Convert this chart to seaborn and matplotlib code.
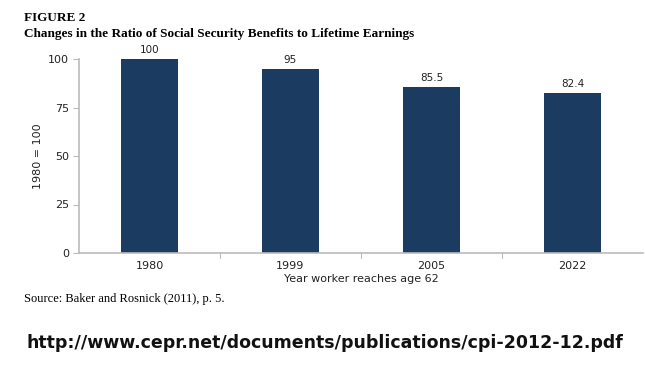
import matplotlib
matplotlib.use("Agg")
import matplotlib.pyplot as plt
import seaborn as sns
import pandas as pd

years = ["1980", "1999", "2005", "2022"]
values = [100, 95, 85.5, 82.4]
value_labels = ["100", "95", "85.5", "82.4"]
yticks = [0, 25, 50, 75, 100]

sns.set_theme(style="white")
plt.rcParams['font.family'] = ['DejaVu Sans']

df = pd.DataFrame({"year": years, "value": values})

fig = plt.figure(figsize=(6.45, 3.75), dpi=100)
ax = fig.add_axes([79/645, 1 - 253/375, (643-79)/645, (253-59)/375])

sns.barplot(data=df, x="year", y="value", color="#1b3c60", width=0.4,
            saturation=1, ax=ax, edgecolor="none")

ax.set_ylim(0, 100)
ax.set_xlim(-0.5, 3.5)
ax.set_yticks(yticks)
ax.set_yticklabels([str(t) for t in yticks], fontsize=8, color="#222222")
ax.tick_params(axis='y', length=4, width=0.8, color="#bbbbbb", direction='out', pad=3, left=True)
ax.set_xticks(range(len(years)))
ax.set_xticklabels(years, fontsize=8, color="#222222")
ax.tick_params(axis='x', length=0, pad=6)
for b in [0.5, 1.5, 2.5]:
    ax.plot([b, b], [0, -2.5], color="#bbbbbb", lw=0.8, clip_on=False)

for s in ["top", "right"]:
    ax.spines[s].set_visible(False)
for s in ["left", "bottom"]:
    ax.spines[s].set_color("#bbbbbb")
    ax.spines[s].set_linewidth(1.2)

for i, (v, lab) in enumerate(zip(values, value_labels)):
    ax.text(i, v + 2, lab, ha="center", va="bottom", fontsize=7.5, color="#222222")

ax.set_ylabel("1980 = 100", fontsize=8, color="#222222", labelpad=4)
ax.set_xlabel("Year worker reaches age 62", fontsize=8, color="#222222", labelpad=2)

fig.text(24/645, 1 - 18/375, "FIGURE 2", fontsize=9.5, fontweight="bold",
         family="Liberation Serif", va="center", ha="left", color="black")
fig.text(24/645, 1 - 34/375, "Changes in the Ratio of Social Security Benefits to Lifetime Earnings",
         fontsize=9.5, fontweight="bold", family="Liberation Serif", va="center", ha="left",
         color="black")
fig.text(24/645, 1 - 299/375, "Source: Baker and Rosnick (2011), p. 5.", fontsize=9,
         family="Liberation Serif", va="center", ha="left", color="black")
fig.text(325/645, 1 - 343/375, "http://www.cepr.net/documents/publications/cpi-2012-12.pdf",
         fontsize=12.5, fontweight="bold", family="DejaVu Sans", va="center", ha="center",
         color="#111111")

fig.savefig("out.png", dpi=100, facecolor="white")
